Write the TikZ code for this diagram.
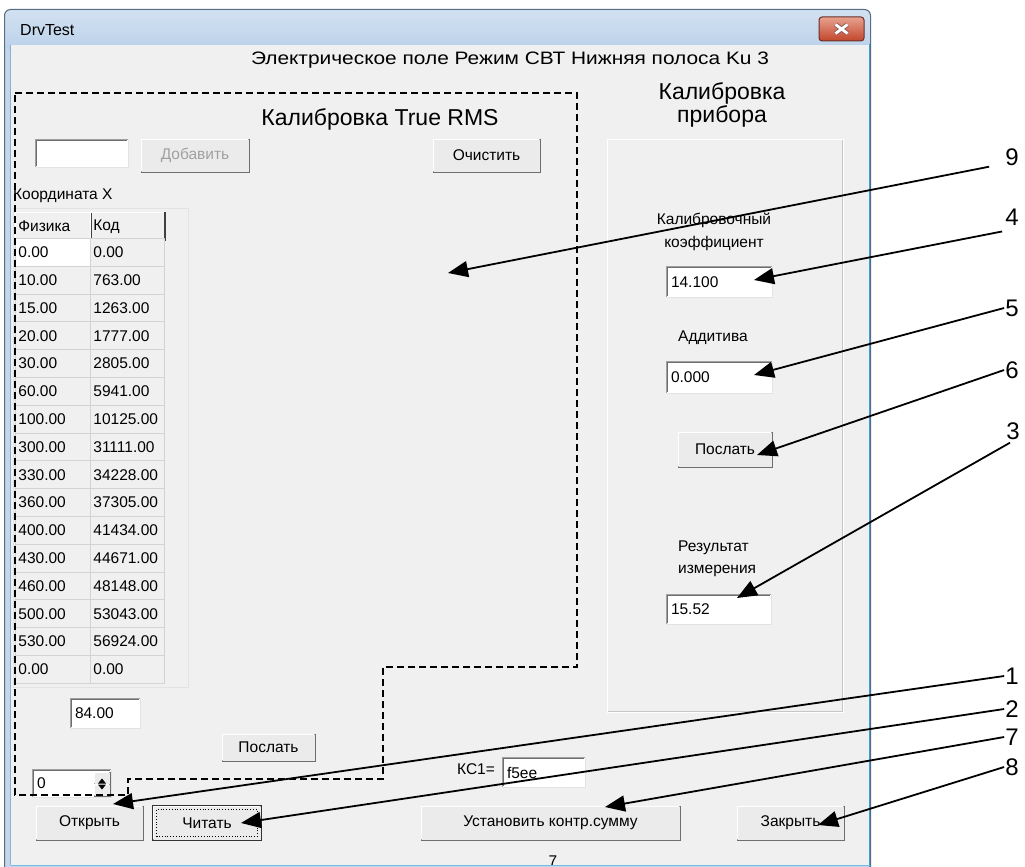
\documentclass[tikz,border=0pt]{standalone}
\usepackage{fontspec}
\usepackage{graphicx}
\setmainfont{Liberation Sans}
\usetikzlibrary{arrows.meta,fit}
\definecolor{winbg}{HTML}{F0F0F0}
\definecolor{btnface}{HTML}{EBEBEB}
\definecolor{btndark}{HTML}{6E6E6E}
\definecolor{btnmid}{HTML}{A0A0A0}
\definecolor{lightedge}{HTML}{E3E3E3}
\definecolor{gridc}{HTML}{D3D3D3}
\definecolor{framebl}{HTML}{C3D6EC}
\definecolor{titletop}{HTML}{D2E1F1}
\definecolor{titlebot}{HTML}{BAD1EA}
\definecolor{frameout}{HTML}{5A6C80}
\definecolor{frameinner}{HTML}{8FAFCF}
\definecolor{winblue}{HTML}{3A9FD8}
\definecolor{closetop}{HTML}{E8A28F}
\definecolor{closebot}{HTML}{C2452A}
\definecolor{closeedge}{HTML}{6B2F2A}
\definecolor{distext}{HTML}{A0A0A0}
\newcommand\fui{\fontsize{15.5}{18.5}\selectfont}
\newcommand\fsub{\fontsize{18}{21}\selectfont}
\newcommand\fhead{\fontsize{23}{25}\selectfont}
\newcommand\fnum{\fontsize{24}{26}\selectfont}
\newcommand\ftitle{\fontsize{16}{18}\selectfont}
\tikzset{
  ui/.style={inner sep=0pt, font=\fui},
  uibtn/.style={fill=btnface, draw=btnmid, line width=0.8pt, inner sep=0pt},
  cell/.style={draw=gridc, line width=0.8pt, anchor=north west, minimum height=27.8pt,
               inner xsep=3pt, inner ysep=0pt, font=\fui, align=left},
  num/.style={inner sep=1pt, font=\fnum},
  callout/.style={draw=black, line width=1.8pt, -{Triangle[length=20pt,width=16pt]}},
  region/.style={draw=black, line width=1.5pt, dash pattern=on 7pt off 4pt}
}
\newcommand\uibutton[4]{%
  \node[uibtn, fit={(#2) (#3)}] (#1) {};
  \draw[white, line width=1pt] ([xshift=1pt,yshift=1pt]#1.south west) -- ([xshift=1pt,yshift=-1pt]#1.north west) -- ([xshift=-1pt,yshift=-1pt]#1.north east);
  \draw[btndark, line width=1.2pt] ([xshift=0.2pt]#1.north east) -- ([xshift=0.2pt,yshift=-0.2pt]#1.south east) -- ([yshift=-0.2pt]#1.south west);
  \node[ui] (#1t) at (#1.center) {#4};
}
\newcommand\uitextbox[4]{%
  \node[fill=white, inner sep=0pt, fit={(#2) (#3)}] (#1) {};
  \draw[btnmid, line width=1pt] (#1.south west) -- (#1.north west) -- (#1.north east);
  \draw[btndark, line width=1pt] ([xshift=1pt,yshift=1pt]#1.south west) -- ([xshift=1pt,yshift=-1pt]#1.north west) -- ([xshift=-1pt,yshift=-1pt]#1.north east);
  \draw[lightedge, line width=1pt] (#1.north east) -- (#1.south east) -- (#1.south west);
  \node[ui, anchor=west] (#1t) at ([xshift=4pt]#1.west) {#4};
}
\begin{document}
\begin{tikzpicture}[x=1pt,y=-1pt]
\useasboundingbox (0,0) rectangle (1025,867);
\fill[white] (0,0) rectangle (1025,867);
% window frame
\draw[frameout, fill=framebl, line width=1pt, rounded corners=6pt] (4.5,9.5) rectangle (870.5,880);
\shade[top color=titletop, bottom color=titlebot, rounded corners=5pt] (5.5,10.5) rectangle (869.5,50);
\fill[winbg] (11,45) rectangle (869,865);
\draw[frameinner, line width=1pt] (10.5,45) -- (10.5,865);
\node[anchor=west, inner sep=0pt, font=\ftitle] (wtitle) at (20,30) {DrvTest};
\node[fit={(819,17) (864,41)}, inner sep=0pt, rounded corners=3pt, draw=closeedge, line width=1pt,
      top color=closetop, bottom color=closebot] (closebtn) {};
\draw[closeedge!80, line width=4.6pt] ([xshift=-6pt,yshift=4.5pt]closebtn.center) -- ([xshift=6pt,yshift=-4.5pt]closebtn.center)
      ([xshift=-6pt,yshift=-4.5pt]closebtn.center) -- ([xshift=6pt,yshift=4.5pt]closebtn.center);
\draw[white, line width=2.8pt] ([xshift=-6pt,yshift=4.5pt]closebtn.center) -- ([xshift=6pt,yshift=-4.5pt]closebtn.center)
      ([xshift=-6pt,yshift=-4.5pt]closebtn.center) -- ([xshift=6pt,yshift=4.5pt]closebtn.center);
\node[inner sep=0pt, font=\fsub] (subtitle) at (510,60) {\scalebox{1.16}[1]{Электрическое поле Режим СВТ Нижняя полоса Ku 3}};

% ---- left block
\node[inner sep=0pt, font=\fhead] (rmshead) at (380,119) {Калибровка True RMS};
\uitextbox{addbox}{36,140}{128,167}{}
\uibutton{addbtn}{141,139}{249,172}{\textcolor{distext}{Добавить}}
\uibutton{clrbtn}{433,139}{540,172}{Очистить}
\node[ui, anchor=west] (coordx) at (13,196) {Координата X};
\node[fit={(13,208) (188,687)}, inner sep=0pt, draw=lightedge, line width=1pt] (tblframe) {};
\node[cell, text width=69pt, draw=none, fill=winbg] (hp) at (15,212) {Физика};
\node[cell, text width=68pt, draw=none, fill=winbg] (hk) at (90,212) {Код};
\foreach \h in {hp,hk}{
  \draw[white, line width=1pt] (\h.south west) -- (\h.north west) -- (\h.north east);
  \draw[black!75, line width=1.4pt] (\h.north east) -- (\h.south east) -- (\h.south west);
}
\foreach \p/\k [count=\i from 0] in {0.00/0.00,10.00/763.00,15.00/1263.00,20.00/1777.00,30.00/2805.00,
   60.00/5941.00,100.00/10125.00,300.00/31111.00,330.00/34228.00,360.00/37305.00,400.00/41434.00,
   430.00/44671.00,460.00/48148.00,500.00/53043.00,530.00/56924.00,0.00/0.00}{
  \pgfmathsetmacro\yy{238+27.8*\i}
  \ifnum\i=0 \def\cf{white}\else\def\cf{winbg}\fi
  \node[cell, text width=69pt, fill=\cf] (p\i) at (15,\yy) {\p};
  \node[cell, text width=68pt, fill=winbg] (k\i) at (90,\yy) {\k};
}
\uitextbox{valbox}{71,699}{140,728}{84.00}
\uibutton{sendl}{222,734}{315,761}{Послать}
\uitextbox{spin}{33,770}{111,797}{0}
\uibutton{spinup}{94,772}{110,784}{}
\uibutton{spindn}{94,784}{110,796}{}
\fill ([yshift=-3pt]spinup.center) ++(0,-2.5) -- ++(-4,5) -- ++(8,0) -- cycle;
\fill ([yshift=3pt]spindn.center) ++(0,2.5) -- ++(-4,-5) -- ++(8,0) -- cycle;
\node[ui] (kclbl) at (476,769) {КС1=};
\uitextbox{kcbox}{503,758}{585,787}{f5ee}
\uibutton{openbtn}{36,806}{143,840}{Открыть}
\uibutton{readbtn}{153,806}{261,840}{Читать}
\draw[black!80, line width=1.2pt] (readbtn.south west) rectangle (readbtn.north east);
\draw[black, line width=0.8pt, dotted] ([xshift=4pt,yshift=4pt]readbtn.south west) rectangle ([xshift=-4pt,yshift=-4pt]readbtn.north east);
\uibutton{csbtn}{421,806}{680,840}{Установить контр.сумму}
\uibutton{closeb}{737,806}{844,840}{Закрыть}
\begin{scope}
  \clip (11,840) rectangle (869,864.8);
  \node[ui] (seven) at (553,861) {7};
\end{scope}
\draw[winblue, line width=1.5pt] (869.5,44) -- (869.5,866.5);
\draw[winblue!70, line width=1.2pt] (10.5,865.6) -- (869.5,865.6);

% dashed region
\draw[region] (15,93) -- (577,93) -- (577,667) -- (383,667) -- (383,779) -- (128,779) -- (128,795) -- (15,795) -- cycle;

% ---- right block
\node[inner sep=0pt, font=\fhead, align=center] (devhead) at (722,105) {Калибровка\\[-2pt]прибора};
\node[fit={(607,139) (842,711)}, inner sep=0pt, draw=btnmid!60, line width=1pt] (grp) {};
\draw[white, line width=1pt] ([xshift=1pt,yshift=-1pt]grp.south west) -- ([xshift=1pt,yshift=-1pt]grp.north west) -- ([xshift=1pt,yshift=-1pt]grp.north east) -- ([xshift=1pt,yshift=-1pt]grp.south east) -- cycle;
\node[ui, align=center] (kclab) at (714,232) {Калибровочный\\[4pt]коэффициент};
\uitextbox{kcoef}{667,267}{772,297}{14.100}
\node[ui] (addlab) at (713,338) {Аддитива};
\uitextbox{addit}{667,362}{772,393}{0.000}
\uibutton{sendr}{678,432}{772,467}{Послать}
\node[ui, align=left, anchor=west] (reslab) at (678,559) {Результат\\[4pt]измерения};
\uitextbox{result}{667,595}{771,624}{15.52}

% ---- callouts
\node[num] (n9) at (1012,157) {9};
\node[num] (n4) at (1012,217) {4};
\node[num] (n5) at (1012,308) {5};
\node[num] (n6) at (1012,370) {6};
\node[num] (n3) at (1013,431) {3};
\node[num] (n1) at (1012,676) {1};
\node[num] (n2) at (1012,709) {2};
\node[num] (n7) at (1012,737) {7};
\node[num] (n8) at (1012,767) {8};
\coordinate (s9) at ([xshift=-15pt]n9.south west);
\coordinate (s4) at ([xshift=-2pt,yshift=-5pt]n4.south west);
\coordinate (s3) at ([xshift=-3pt,yshift=-2pt]n3.south);
\coordinate (t9) at (448,273);
\coordinate (t4) at (754,280);
\coordinate (t5) at (754,375);
\coordinate (t6) at (757,455);
\coordinate (t3) at (737,598);
\coordinate (t1) at (113,804);
\coordinate (t2) at (241,823);
\coordinate (t7) at (605,807);
\coordinate (t8) at (818,825);
\draw[callout] (s9) -- (t9);
\draw[callout] (s4) -- (t4);
\draw[callout] (n5.west) -- (t5);
\draw[callout] (n6.west) -- (t6);
\draw[callout] (s3) -- (t3);
\draw[callout] (n1.west) -- (t1);
\draw[callout] (n2.west) -- (t2);
\draw[callout] (n7.west) -- (t7);
\draw[callout] (n8.west) -- (t8);
\end{tikzpicture}
\end{document}
